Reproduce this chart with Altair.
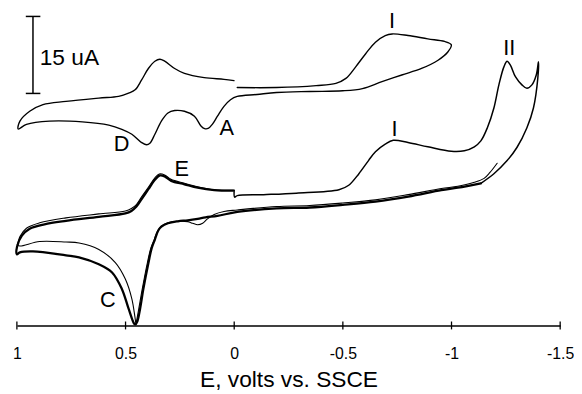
import altair as alt
import pandas as pd

# ---- data (E in volts vs SSCE, current in uA, arbitrary offset) ----
inset_E = [-0.014, -0.195, -0.377, -0.468, -0.514, -0.559, -0.605, -0.650, -0.695, -0.727,
           -0.800, -0.891, -0.968, -0.999, -0.983, -0.938, -0.862, -0.771, -0.680, -0.590,
           -0.499, -0.347, -0.195, -0.105, -0.014, 0.017, 0.047, 0.077, 0.100, 0.120,
           0.136, 0.153, 0.183, 0.229, 0.274, 0.305, 0.335, 0.365, 0.388, 0.403,
           0.426, 0.471, 0.517, 0.577, 0.699, 0.850, 0.956, 0.994, 0.986, 0.941,
           0.880, 0.774, 0.623, 0.532, 0.486, 0.456, 0.426, 0.395, 0.365, 0.342,
           0.320, 0.274, 0.229, 0.138, 0.047, 0.001]
inset_I = [46.35, 46.35, 46.73, 47.17, 48.13, 50.38, 52.94, 55.19, 56.48, 56.79,
           56.48, 55.83, 55.33, 54.67, 53.27, 51.67, 50.06, 48.79, 47.50, 46.15,
           45.71, 45.58, 45.38, 45.00, 44.62, 43.98, 42.69, 40.77, 39.23, 38.37,
           38.33, 38.85, 40.77, 41.73, 41.87, 41.40, 39.81, 37.25, 35.48, 35.19,
           35.63, 37.25, 38.21, 39.04, 39.67, 39.81, 39.17, 38.27, 39.81, 41.73,
           43.02, 43.65, 44.29, 44.62, 45.25, 45.90, 47.83, 50.06, 51.48, 51.87,
           51.48, 50.06, 49.10, 48.27, 47.94, 47.69]

thick_E = [0.000, -0.002, -0.014, -0.135, -0.286, -0.482, -0.527, -0.573, -0.618, -0.650,
           -0.695, -0.732, -0.800, -0.891, -0.999, -1.059, -1.105, -1.135, -1.165, -1.195,
           -1.218, -1.241, -1.256, -1.271, -1.294, -1.324, -1.347, -1.370, -1.390, -1.400,
           -1.397, -1.377, -1.347, -1.301, -1.256, -1.195, -1.135, -1.029, -0.953, -0.801,
           -0.650, -0.499, -0.347, -0.195, -0.014, 0.077, 0.132, 0.168, 0.214, 0.259,
           0.305, 0.335, 0.350, 0.365, 0.380, 0.395, 0.418, 0.433, 0.446, 0.455,
           0.461, 0.486, 0.517, 0.562, 0.623, 0.714, 0.774, 0.926, 0.986, 1.000,
           0.999, 0.977, 0.941, 0.873, 0.774, 0.623, 0.501, 0.473, 0.450, 0.426,
           0.395, 0.365, 0.342, 0.320, 0.290, 0.229, 0.168, 0.092, 0.005]
thick_I = [26.35, 25.00, 25.29, 25.48, 25.77, 26.44, 27.31, 29.52, 32.12, 33.85,
           35.33, 36.06, 35.63, 34.81, 33.94, 34.04, 34.81, 35.96, 38.52, 42.37,
           46.87, 50.38, 51.48, 50.71, 48.46, 46.87, 46.21, 46.87, 48.79, 51.35,
           48.13, 42.37, 38.52, 34.67, 32.12, 29.56, 27.69, 26.83, 26.35, 25.10,
           24.13, 23.50, 22.98, 22.79, 22.12, 21.35, 21.06, 20.77, 20.48, 20.29,
           19.90, 19.23, 18.46, 16.73, 15.00, 12.12, 7.12, 3.27, 0.77, 0.19,
           0.38, 3.27, 7.12, 10.33, 11.92, 13.27, 13.65, 14.42, 14.23, 13.85,
           15.38, 17.50, 18.85, 19.71, 20.38, 21.15, 21.83, 22.31, 23.17, 24.62,
           26.54, 28.37, 29.23, 29.04, 28.17, 27.50, 26.83, 26.35, 26.25]

thin_E = [-1.210, -1.177, -1.150, -1.105, -1.029, -0.953, -0.801, -0.650, -0.499, -0.347,
          -0.195, -0.014, 0.047, 0.092, 0.123, 0.145, 0.168, 0.191, 0.214, 0.259,
          0.305, 0.336, 0.352, 0.368, 0.384, 0.400, 0.423, 0.439, 0.449, 0.452,
          0.457, 0.471, 0.501, 0.547, 0.623, 0.714, 0.774, 0.895, 0.986, 0.998,
          0.993, 0.986, 0.956, 0.895, 0.774, 0.623, 0.501, 0.473, 0.450, 0.427,
          0.395, 0.365, 0.345, 0.320, 0.291, 0.229, 0.168, 0.092, 0.001]
thin_I = [31.60, 29.81, 28.65, 27.88, 27.12, 26.67, 25.48, 24.46, 23.85, 23.37,
          23.17, 22.50, 22.21, 21.63, 20.77, 19.90, 19.62, 19.90, 20.23, 20.29,
          20.00, 19.33, 18.46, 16.73, 15.00, 12.12, 7.12, 3.27, 0.96, 0.38,
          1.73, 5.19, 9.04, 12.25, 14.81, 16.06, 16.25, 16.35, 15.48, 15.67,
          16.35, 17.31, 18.94, 20.00, 20.96, 21.73, 22.31, 22.79, 23.56, 25.00,
          26.92, 28.75, 29.52, 29.33, 28.46, 27.69, 27.02, 26.44, 26.35]

label_text = ["I", "II", "I", "D", "A", "E", "C"]
label_E = [-0.726, -1.266, -0.738, 0.518, 0.034, 0.241, 0.582]
label_I = [59.37, 53.94, 38.17, 35.33, 38.52, 30.38, 4.87]

bar_text = "15 uA"
bar_E = 0.926
bar_I = [45.2, 60.2]
bar_cap_E = [0.959, 0.892]

tick_values = [1, 0.5, 0, -0.5, -1, -1.5]

# ---- build tables ----
SPLIT = 36  # thick scan: negative sweep drawn lighter, return sweep bold
segments = [
    ("inset", inset_E, inset_I, 1.4),
    ("thin", thin_E, thin_I, 1.1),
    ("thick_neg", thick_E[:SPLIT + 1], thick_I[:SPLIT + 1], 1.5),
    ("thick_pos", thick_E[SPLIT:], thick_I[SPLIT:], 2.3),
]
rows = []
for name, Es, Is, w in segments:
    for k, (e, i) in enumerate(zip(Es, Is)):
        rows.append({"series": name, "E": e, "I": i, "k": k, "w": w})
df = pd.DataFrame(rows)

labels = pd.DataFrame({"E": label_E, "I": label_I, "t": label_text})
bar = pd.DataFrame({
    "E": [bar_E, bar_cap_E[0], bar_cap_E[0]],
    "E2": [bar_E, bar_cap_E[1], bar_cap_E[1]],
    "I": [bar_I[0], bar_I[0], bar_I[1]],
    "I2": [bar_I[1], bar_I[0], bar_I[1]],
})
bar_lab = pd.DataFrame({"E": [0.895], "I": [52.1], "t": [bar_text]})
ticks = pd.DataFrame({"E": tick_values})

W, H = 550, 317
xs = alt.Scale(domain=[-1.5, 1], reverse=True, nice=False, zero=False)
ys = alt.Scale(domain=[0, 61], nice=False, zero=False)
FONT = "Liberation Sans, Arial, sans-serif"

lines = alt.Chart(df).mark_line(
    color="black", interpolate="catmull-rom", strokeCap="round", strokeJoin="round"
).encode(
    x=alt.X("E:Q", scale=xs, axis=alt.Axis(
        values=tick_values, labelExpr="datum.value + ''", ticks=False,
        domain=True, domainColor="black", domainWidth=1.5, grid=False,
        labelFont="Liberation Sans Narrow, Liberation Sans, sans-serif",
        labelFontSize=16, labelColor="black", labelPadding=20, labelFlush=False,
        title="E, volts vs. SSCE", titleFont=FONT, titleFontSize=23,
        titleFontWeight="normal", titleColor="black", titlePadding=8)),
    y=alt.Y("I:Q", scale=ys, axis=None),
    detail="series:N",
    order="k:Q",
    strokeWidth=alt.StrokeWidth("w:Q", scale=None),
)

bar_rules = alt.Chart(bar).mark_rule(color="black", strokeWidth=1.5).encode(
    x=alt.X("E:Q", scale=xs), x2="E2:Q",
    y=alt.Y("I:Q", scale=ys), y2="I2:Q",
)

bar_txt = alt.Chart(bar_lab).mark_text(
    font=FONT, fontSize=23, color="black", align="left", baseline="middle"
).encode(x=alt.X("E:Q", scale=xs), y=alt.Y("I:Q", scale=ys), text="t:N")

txt = alt.Chart(labels).mark_text(
    font=FONT, fontSize=22, color="black", align="center", baseline="middle"
).encode(x=alt.X("E:Q", scale=xs), y=alt.Y("I:Q", scale=ys), text="t:N")

tick_rules = alt.Chart(ticks).mark_rule(color="black", strokeWidth=1.3).encode(
    x=alt.X("E:Q", scale=xs), y=alt.value(H - 4), y2=alt.value(H + 4)
)

chart = alt.layer(lines, bar_rules, bar_txt, txt, tick_rules).properties(
    width=W, height=H,
    padding={"left": 9, "top": 2, "right": 14, "bottom": 66},
    autosize=alt.AutoSizeParams(type="none"),
).configure_view(stroke=None)

chart.save("out.html", embed_options={"renderer": "svg", "actions": False})
